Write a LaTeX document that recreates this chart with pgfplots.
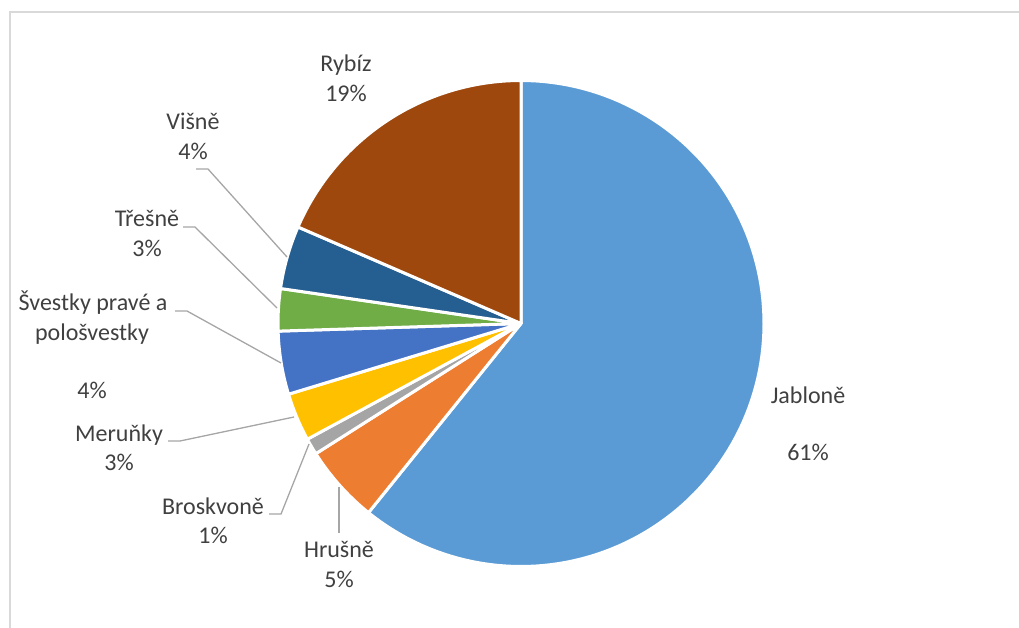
\documentclass[border=0pt]{standalone}
\usepackage{pgfplots}
\usepackage{pgfplotstable}
\pgfplotsset{compat=1.18}
\usepackage{fontspec}
\setmainfont{Carlito}
\definecolor{c0}{HTML}{5B9BD5}
\definecolor{c1}{HTML}{ED7D31}
\definecolor{c2}{HTML}{A5A5A5}
\definecolor{c3}{HTML}{FFC000}
\definecolor{c4}{HTML}{4472C4}
\definecolor{c5}{HTML}{70AD47}
\definecolor{c6}{HTML}{255E91}
\definecolor{c7}{HTML}{9E480E}
\definecolor{txt}{HTML}{404040}
\definecolor{lead}{HTML}{A6A6A6}
\definecolor{frame}{HTML}{D9D9D9}
\pgfplotstableread{
name value
Jablone 60.8
Hrusne 5.2
Broskvone 1.1
Merunky 3.2
Svestky 4.2
Tresne 2.8
Visne 4.2
Rybiz 18.5
}\piedata
\begin{document}
\begin{tikzpicture}
\begin{axis}[
  scale only axis, width=1019pt, height=628pt,
  xmin=0, xmax=1019, ymin=0, ymax=628, y dir=reverse,
  hide axis, clip=false,
]
% frame
\addplot[frame, line width=1.5pt, no marks] coordinates {(10,628) (10,12) (1019,12)};
% pie
\def\cum{0}
\pgfplotsforeachungrouped \i in {0,...,7}{%
  \pgfplotstablegetelem{\i}{value}\of\piedata
  \let\v\pgfplotsretval
  \pgfmathsetmacro\a{90-3.6*\cum}%
  \pgfmathsetmacro\cumnew{\cum+\v}%
  \pgfmathsetmacro\b{90-3.6*\cumnew}%
  \edef\temp{\noexpand\addplot[fill=c\i, draw=white, line width=3pt, line join=round, domain=\b:\a, samples=120, no marks] ({521+243*cos(x)},{323.5-243*sin(x)}) -- (axis cs:521,323.5) -- cycle;}%
  \temp
  \global\let\cum\cumnew
}
% leader lines
\addplot[lead, line width=1.3pt, no marks] coordinates {(196,169) (208,169) (287,257)};
\addplot[lead, line width=1.3pt, no marks] coordinates {(183,227) (195,227) (277,308)};
\addplot[lead, line width=1.3pt, no marks] coordinates {(175,311) (187,311) (281,363)};
\addplot[lead, line width=1.3pt, no marks] coordinates {(168,441) (180,441) (294,417)};
\addplot[lead, line width=1.3pt, no marks] coordinates {(269,514) (281,514) (309,444)};
\addplot[lead, line width=1.3pt, no marks] coordinates {(339,533) (339,487)};
% labels
\begin{scope}[every node/.style={anchor=base, text=txt, inner sep=0pt, font=\fontsize{24}{29}\selectfont}]
\node at (axis cs:346,72) {Rybíz};
\node at (axis cs:346,102) {19\%};
\node at (axis cs:193,130) {Višně};
\node at (axis cs:193,160) {4\%};
\node at (axis cs:147,227) {Třešně};
\node at (axis cs:147,257) {3\%};
\node at (axis cs:93,310) {Švestky pravé a};
\node at (axis cs:92,340) {pološvestky};
\node at (axis cs:92,398) {4\%};
\node at (axis cs:119,441) {Meruňky};
\node at (axis cs:119,470) {3\%};
\node at (axis cs:213,514) {Broskvoně};
\node at (axis cs:213,543) {1\%};
\node at (axis cs:339,557) {Hrušně};
\node at (axis cs:339,587) {5\%};
\node at (axis cs:808,403) {Jabloně};
\node at (axis cs:808,460) {61\%};
\end{scope}
\end{axis}
\pgfresetboundingbox
\path[use as bounding box] (current axis.south west) rectangle (current axis.north east);
\end{tikzpicture}
\end{document}
